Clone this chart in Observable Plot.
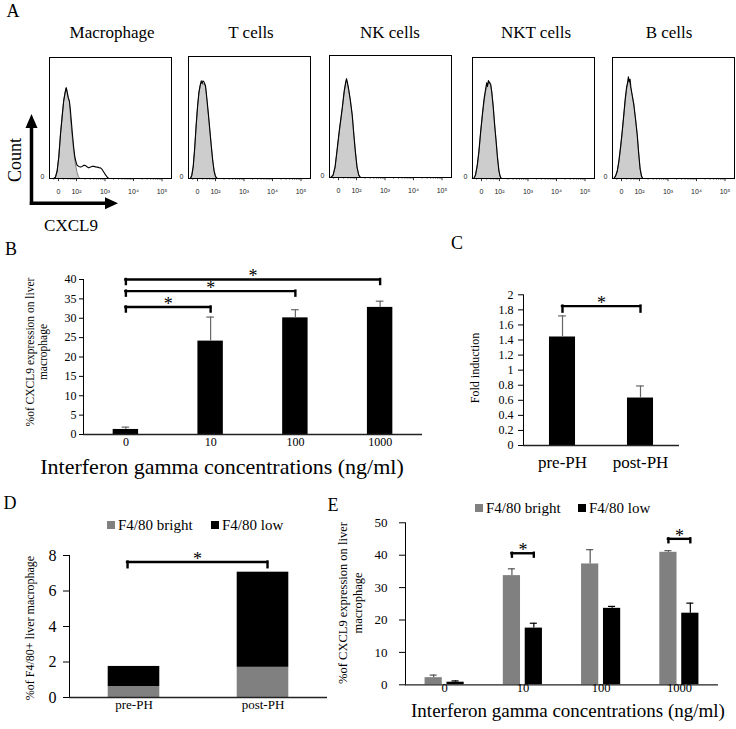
<!DOCTYPE html>
<html><head><meta charset="utf-8">
<script src="https://cdn.jsdelivr.net/npm/d3@7"></script>
<script src="https://cdn.jsdelivr.net/npm/@observablehq/plot@0.6"></script>
<style>
body{margin:0;background:#fff;}
#fig{position:relative;width:736px;height:729px;overflow:hidden;background:#fff;color:#000;}
</style></head><body><div id="fig"></div><script>
// ---------------- data ----------------
const cellTypes = ["Macrophage", "T cells", "NK cells", "NKT cells", "B cells"];
// flow histograms: [decade position, % of max height]; iso = gray filled, cxcl9 = black line
const macIso = [[1.05,0],[1.2,0],[1.26,1],[1.32,6],[1.38,18],[1.44,37],[1.5,52],[1.55,64],[1.6,71],[1.64,75],[1.67,71],[1.71,66],[1.75,64],[1.78,53],[1.82,41],[1.86,32],[1.9,23],[1.96,12],[2.02,5],[2.07,1.5],[2.12,0],[5.33,0]];
const macCxcl9 = [[1.05,0],[1.2,0],[1.26,1],[1.32,6],[1.38,18],[1.44,37],[1.5,52],[1.55,64],[1.6,71],[1.64,75],[1.67,72],[1.71,67],[1.75,64],[1.78,58],[1.82,47],[1.86,36],[1.9,26],[1.94,18],[1.98,14],[2.02,11],[2.08,10],[2.14,9.5],[2.2,10],[2.26,11],[2.32,10.7],[2.38,9.5],[2.43,8.8],[2.49,9.5],[2.55,10],[2.61,10],[2.67,9.6],[2.73,9.4],[2.79,9],[2.84,8.8],[2.9,7.5],[2.96,5.2],[3.02,3],[3.08,1],[3.13,0],[5.33,0]];
const tIso = [[1.05,0],[1.12,0],[1.17,3],[1.22,10],[1.27,24],[1.32,42],[1.37,58],[1.42,70],[1.47,77],[1.52,79],[1.56,77],[1.6,78],[1.65,75],[1.7,64],[1.75,52],[1.8,40],[1.85,28],[1.9,16],[1.95,7],[2.0,2],[2.06,0],[5.33,0]];
const tCxcl9 = [[1.05,0],[1.12,0],[1.17,2.5],[1.22,10],[1.27,25],[1.32,43],[1.37,59],[1.42,71],[1.46,76],[1.5,80],[1.53,78],[1.56,80],[1.6,79],[1.65,76],[1.7,65],[1.75,53],[1.8,40],[1.85,27],[1.9,15],[1.95,6],[2.0,1.5],[2.06,0],[5.33,0]];
const nkIso = [[1.05,0],[1.1,0],[1.18,2],[1.25,8],[1.32,22],[1.4,38],[1.5,56],[1.57,70],[1.62,77],[1.65,80],[1.68,77],[1.72,72],[1.78,64],[1.85,52],[1.91,35],[1.96,22],[2.02,9],[2.08,2],[2.14,0],[5.33,0]];
const nkCxcl9 = [[1.05,0],[1.1,0],[1.18,2],[1.25,9],[1.32,23],[1.4,39],[1.5,57],[1.57,71],[1.62,78],[1.65,81],[1.68,78],[1.72,73],[1.78,64],[1.85,51],[1.91,34],[1.96,21],[2.02,8],[2.08,2],[2.14,0],[5.33,0]];
const nktIso = [[1.05,0],[1.1,0],[1.16,3],[1.22,10],[1.28,22],[1.34,38],[1.4,52],[1.46,64],[1.52,73],[1.57,77],[1.61,79],[1.65,80],[1.69,77],[1.73,72],[1.78,60],[1.83,45],[1.88,32],[1.93,18],[1.98,7],[2.02,2],[2.06,0],[5.33,0]];
const nktCxcl9 = [[1.05,0],[1.1,0],[1.16,3],[1.22,11],[1.28,23],[1.34,39],[1.4,53],[1.46,66],[1.52,75],[1.55,79],[1.58,76],[1.61,81],[1.65,79],[1.69,78],[1.73,71],[1.78,59],[1.83,44],[1.88,31],[1.93,17],[1.98,6],[2.02,2],[2.06,0],[5.33,0]];
const bIso = [[1.05,0],[1.1,0],[1.16,2],[1.22,6],[1.28,14],[1.34,26],[1.39,37],[1.45,52],[1.5,64],[1.55,74],[1.6,80],[1.63,82],[1.66,78],[1.7,74],[1.75,68],[1.8,62],[1.86,50],[1.92,37],[1.97,22],[2.02,9],[2.07,2],[2.11,0],[5.33,0]];
const bCxcl9 = [[1.05,0],[1.1,0],[1.16,2],[1.22,6],[1.28,15],[1.34,27],[1.39,38],[1.45,53],[1.5,66],[1.55,76],[1.58,79],[1.61,84],[1.64,80],[1.67,82],[1.7,75],[1.75,68],[1.8,61],[1.86,49],[1.92,36],[1.97,21],[2.02,8],[2.07,2],[2.11,0],[5.33,0]];
const histIso = [macIso, tIso, nkIso, nktIso, bIso];
const histCxcl9 = [macCxcl9, tCxcl9, nkCxcl9, nktCxcl9, bCxcl9];
const decadeTicks = [1.368, 2, 3, 4, 5];
const decadeLabels = ["0", "10²", "10³", "10⁴", "10⁵"];
const minorMultipliers = [2, 3, 4, 5, 6, 7, 8, 9];
const minorDecades = [2, 3, 4];
const linearMinor = [1.2, 1.55, 1.7, 1.8, 1.88, 1.94];

// B
const concentrations = ["0", "10", "100", "1000"];
const cxcl9Pct = [1.3, 24.1, 30.1, 32.8];
const cxcl9PctErr = [0.6, 6.2, 2.1, 1.6];
const bCompare = [[0, 1], [0, 2], [0, 3]];
const bCompareLevel = [32.9, 37.0, 40.0];

// C
const phases = ["pre-PH", "post-PH"];
const foldInduction = [1.44, 0.63];
const foldInductionErr = [0.28, 0.16];

// D
const seriesNames = ["F4/80 bright", "F4/80 low"];
const brightPct = [0.62, 1.70];
const lowPct = [1.13, 5.36];

// E
const eBright = [2.2, 33.7, 37.3, 40.9];
const eBrightErr = [0.8, 2.1, 4.4, 0.5];
const eLow = [0.8, 17.5, 23.6, 22.1];
const eLowErr = [0.4, 1.5, 0.6, 3.1];

// ---------------- layout helpers ----------------
const fig = document.getElementById("fig");
const SERIF = '"Liberation Serif", "Times New Roman", serif';
const SANS = '"Liberation Sans", Arial, sans-serif';
const GRAY = "#808080";

function put(node, left, top) {
  node.style.position = "absolute";
  node.style.left = left + "px";
  node.style.top = top + "px";
  fig.appendChild(node);
}
function txt(s, x, y, size, o = {}) {
  const d = document.createElement("div");
  d.textContent = s;
  d.style.cssText = `position:absolute;left:${x}px;top:${y}px;font-size:${size}px;white-space:pre;line-height:${o.lh || size}px;text-align:center;transform:translate(-50%,-50%)${o.rot ? " rotate(-90deg)" : ""};font-family:${o.font || SERIF};color:#000;`;
  fig.appendChild(d);
}
function legendItem(label, color, x, y, size) {
  const sq = document.createElement("div");
  sq.style.cssText = `position:absolute;left:${x}px;top:${y - 4}px;width:8px;height:8px;background:${color};`;
  fig.appendChild(sq);
  const t = document.createElement("div");
  t.textContent = label;
  t.style.cssText = `position:absolute;left:${x + 11}px;top:${y}px;transform:translateY(-50%);font-size:${size}px;line-height:1;white-space:nowrap;font-family:${SERIF};`;
  fig.appendChild(t);
}
const style = fs => ({background: "transparent", fontFamily: SERIF, fontSize: fs + "px", color: "black", overflow: "visible"});

function bracketMarks(rows, leg, starDy) {
  return [
    Plot.ruleY(rows, {y: "level", x1: "x1", x2: "x2", stroke: "#000", strokeWidth: 2.4, strokeLinecap: "square"}),
    Plot.ruleX(rows, {x: "x1", y1: "level", y2: d => d.level - leg, stroke: "#000", strokeWidth: 2.4, strokeLinecap: "square"}),
    Plot.ruleX(rows, {x: "x2", y1: "level", y2: d => d.level - leg, stroke: "#000", strokeWidth: 2.4, strokeLinecap: "square"}),
    Plot.text(rows, {x: d => (d.x1 + d.x2) / 2, y: "level", text: () => "*", fontSize: 18, dy: starDy, fontFamily: SERIF})
  ];
}

// ---------------- Panel A ----------------
txt("A", 13, 11, 18);
const boxLeft = [49, 188, 329, 472, 612];
const boxTop = [57, 56, 55, 57, 57];
const boxBottom = [178, 178, 177, 178, 178];
const titleX = [112, 251, 390, 536, 669];
const minorTicks = linearMinor.concat(minorDecades.flatMap(k => minorMultipliers.map(m => k + Math.log10(m))));
cellTypes.forEach((name, k) => {
  txt(name, titleX[k], 32, 17);
  const h = boxBottom[k] - boxTop[k];
  const p = Plot.plot({
    width: 149, height: h + 25,
    marginLeft: 24, marginRight: 3, marginTop: 3, marginBottom: 22,
    x: {domain: [1.053, 5.333], axis: null},
    y: {domain: [0, 100], axis: null},
    style: style(7),
    marks: [
      Plot.areaY(histIso[k], {x: d => d[0], y1: 0, y2: d => d[1], fill: "#cdcdcd"}),
      Plot.line(histIso[k], {x: d => d[0], y: d => d[1], stroke: "#444", strokeWidth: 0.7}),
      Plot.line(histCxcl9[k], {x: d => d[0], y: d => d[1], stroke: "#000", strokeWidth: 1.1}),
      Plot.frame({stroke: "#000", strokeWidth: 1}),
      Plot.ruleX(decadeTicks, {x: d => d, y1: 0, y2: -2.6, stroke: "#000", strokeWidth: 0.8}),
      Plot.ruleX(minorTicks, {x: d => d, y1: 0, y2: -1.4, stroke: "#000", strokeWidth: 0.6}),
      Plot.text(decadeLabels, {x: (d, i) => decadeTicks[i], text: d => d, frameAnchor: "bottom", dy: 15, fontSize: 7, fontFamily: SANS, fill: "#222"}),
      Plot.text(["0"], {text: d => d, frameAnchor: "bottom-left", dx: -5, textAnchor: "end", fontSize: 7, fontFamily: SANS, fill: "#222"})
    ]
  });
  put(p, boxLeft[k] - 24, boxTop[k] - 3);
});
// axis arrows (decoration)
{
  const ns = "http://www.w3.org/2000/svg";
  const s = document.createElementNS(ns, "svg");
  s.setAttribute("width", 130); s.setAttribute("height", 215);
  s.innerHTML = `<line x1="31.5" y1="205" x2="31.5" y2="124" stroke="#000" stroke-width="3.5"/>
  <polygon points="31.5,114 25.5,128 37.5,128" fill="#000"/>
  <line x1="29.8" y1="203.3" x2="108" y2="203.3" stroke="#000" stroke-width="3.5"/>
  <polygon points="118,203.3 105,197.3 105,209.3" fill="#000"/>`;
  put(s, 0, 0);
}
txt("Count", 15, 160, 18, {rot: true});
txt("CXCL9", 71, 225, 17);

// ---------------- Panel B ----------------
txt("B", 11, 249, 18);
{
  const rows = concentrations.map((c, i) => ({i, v: cxcl9Pct[i], e: cxcl9PctErr[i]}));
  const br = bCompare.map(([a, b], j) => ({x1: a, x2: b, level: bCompareLevel[j]}));
  const p = Plot.plot({
    width: 440, height: 200, marginLeft: 83, marginRight: 18, marginTop: 19, marginBottom: 26,
    x: {domain: [-0.5, 3.5], axis: null},
    y: {domain: [0, 40], ticks: [0, 5, 10, 15, 20, 25, 30, 35, 40], tickSize: 4, tickPadding: 3, line: true, label: null},
    style: style(12),
    marks: [
      Plot.rectY(rows, {x1: d => d.i - 0.15, x2: d => d.i + 0.15, y1: 0, y2: "v", fill: "#000"}),
      Plot.ruleX(rows, {x: "i", y1: "v", y2: d => d.v + d.e, stroke: "#666", strokeWidth: 1.2}),
      Plot.ruleY(rows, {y: d => d.v + d.e, x1: d => d.i - 0.045, x2: d => d.i + 0.045, stroke: "#666", strokeWidth: 1.2}),
      Plot.ruleY([0], {stroke: "#222", strokeWidth: 1.3}),
      Plot.text(concentrations, {x: (d, i) => i, text: d => d, frameAnchor: "bottom", dy: 11, fontSize: 12}),
      ...bracketMarks(br, 1.3, -3)
    ]
  });
  put(p, 0, 260);
}
txt("%of CXCL9 expression on liver\nmacrophage", 36.5, 352, 11.5, {rot: true, lh: 13});
txt("Interferon gamma concentrations (ng/ml)", 222, 467, 22);

// ---------------- Panel C ----------------
txt("C", 457, 243, 18);
{
  const rows = phases.map((c, i) => ({i, v: foldInduction[i], e: foldInductionErr[i]}));
  const br = [{x1: 0, x2: 1, level: 1.85}];
  const p = Plot.plot({
    width: 250, height: 200, marginLeft: 83, marginRight: 11, marginTop: 14.3, marginBottom: 35,
    x: {domain: [-0.5, 1.5], axis: null},
    y: {domain: [0, 2], ticks: [0, 0.2, 0.4, 0.6, 0.8, 1, 1.2, 1.4, 1.6, 1.8, 2], tickFormat: d => String(d), tickSize: 5, tickPadding: 5, line: true, label: null},
    style: style(12),
    marks: [
      Plot.rectY(rows, {x1: d => d.i - 0.167, x2: d => d.i + 0.167, y1: 0, y2: "v", fill: "#000"}),
      Plot.ruleX(rows, {x: "i", y1: "v", y2: d => d.v + d.e, stroke: "#666", strokeWidth: 1.2}),
      Plot.ruleY(rows, {y: d => d.v + d.e, x1: d => d.i - 0.05, x2: d => d.i + 0.05, stroke: "#666", strokeWidth: 1.2}),
      Plot.ruleY([0], {stroke: "#222", strokeWidth: 1.3}),
      Plot.text(phases, {x: (d, i) => i, text: d => d, frameAnchor: "bottom", dy: 22, fontSize: 17}),
      ...bracketMarks(br, 0.08, -3)
    ]
  });
  put(p, 440, 280);
}
txt("Fold induction", 475, 368, 12, {rot: true});

// ---------------- Panel D ----------------
txt("D", 10, 503, 18);
legendItem(seriesNames[0], GRAY, 107, 525, 15);
legendItem(seriesNames[1], "#000", 211, 525, 15);
{
  const rows = phases.flatMap((c, i) => [
    {i, y1: 0, y2: brightPct[i], s: seriesNames[0]},
    {i, y1: brightPct[i], y2: brightPct[i] + lowPct[i], s: seriesNames[1]}
  ]);
  const br = [{x1: -0.05, x2: 1.035, level: 7.63}];
  const p = Plot.plot({
    width: 340, height: 190, marginLeft: 69, marginRight: 13, marginTop: 15, marginBottom: 33,
    x: {domain: [-0.5, 1.5], axis: null},
    y: {domain: [0, 8], ticks: [0, 2, 4, 6, 8], tickSize: 6, tickPadding: 7, line: true, label: null},
    color: {domain: seriesNames, range: [GRAY, "#000"]},
    style: style(16),
    marks: [
      Plot.rectY(rows, {x1: d => d.i - 0.2, x2: d => d.i + 0.2, y1: "y1", y2: "y2", fill: "s"}),
      Plot.ruleY([0], {stroke: "#222", strokeWidth: 1.3}),
      Plot.text(phases, {x: (d, i) => i, text: d => d, frameAnchor: "bottom", dy: 11.5, fontSize: 13}),
      ...bracketMarks(br, 0.32, -3)
    ]
  });
  put(p, 0, 540);
}
txt("%of F4/80+ liver macrophage", 30, 628, 12, {rot: true});

// ---------------- Panel E ----------------
txt("E", 333, 505, 18);
legendItem(seriesNames[0], GRAY, 475, 508, 15);
legendItem(seriesNames[1], "#000", 578, 508, 15);
{
  const off = 0.14;
  const rows = concentrations.flatMap((c, i) => [
    {x: i - off, v: eBright[i], e: eBrightErr[i], s: seriesNames[0]},
    {x: i + off, v: eLow[i], e: eLowErr[i], s: seriesNames[1]}
  ]);
  const br = [{x1: 1 - off, x2: 1 + off, level: 40.6}, {x1: 3 - off, x2: 3 + off, level: 45.05}];
  const p = Plot.plot({
    width: 406, height: 195, marginLeft: 75, marginRight: 18, marginTop: 12.3, marginBottom: 20.7,
    x: {domain: [-0.5, 3.5], axis: null},
    y: {domain: [0, 50], ticks: [0, 10, 20, 30, 40, 50], tickSize: 6, tickPadding: 12, line: true, label: null},
    color: {domain: seriesNames, range: [GRAY, "#000"]},
    style: style(13),
    marks: [
      Plot.rectY(rows, {x1: d => d.x - 0.11, x2: d => d.x + 0.11, y1: 0, y2: "v", fill: "s"}),
      Plot.ruleX(rows, {x: "x", y1: "v", y2: d => d.v + d.e, stroke: d => d.s === seriesNames[0] ? "#555" : "#000", strokeWidth: 1.2}),
      Plot.ruleY(rows, {y: d => d.v + d.e, x1: d => d.x - 0.045, x2: d => d.x + 0.045, stroke: d => d.s === seriesNames[0] ? "#555" : "#000", strokeWidth: 1.2}),
      Plot.ruleY([0], {stroke: "#222", strokeWidth: 1.3}),
      Plot.text(concentrations, {x: (d, i) => i, text: d => d, frameAnchor: "bottom", dy: 7.5, fontSize: 12.5}),
      ...bracketMarks(br, 1.2, -3)
    ]
  });
  put(p, 330, 510);
}
txt("%of CXCL9 expression on liver\nmacrophage", 350.5, 603, 12.5, {rot: true, lh: 15});
txt("Interferon gamma concentrations (ng/ml)", 568, 710, 19);
</script></body></html>
